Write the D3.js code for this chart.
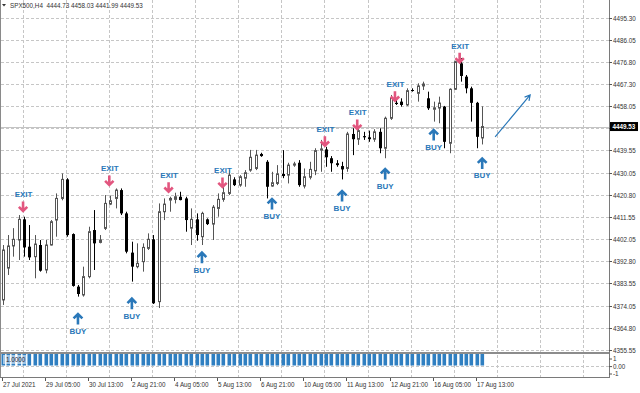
<!DOCTYPE html>
<html><head><meta charset="utf-8">
<script src="https://cdn.jsdelivr.net/npm/d3@7"></script>
<style>body{margin:0;background:#fff}svg{display:block}text{font-family:"Liberation Sans",Arial,sans-serif}</style>
</head><body><svg id="c" width="640" height="393"></svg>
<script>
const symbol = "SPX500", timeframe = "H4";
const openP = [4376.6,4390.0,4399.3,4401.8,4410.5,4399.0,4394.8,4399.7,4389.2,4399.7,
4410.2,4419.3,4427.3,4404.3,4382.2,4378.7,4386.4,4406.0,4400.8,4406.7,
4416.9,4419.3,4422.8,4413.0,4396.5,4390.6,4392.7,4398.3,4402.1,4375.9,
4413.7,4418.6,4418.9,4420.0,4419.3,4406.8,4410.5,4403.2,4410.5,4408.5,
4415.1,4418.9,4421.4,4427.3,4424.9,4427.8,4431.2,4431.9,4438.0,4434.7,
4424.5,4425.6,4429.6,4429.1,4433.3,4434.3,4424.5,4428.2,4430.9,4439.6,
4439.9,4436.2,4434.1,4432.9,4431.9,4446.4,4444.2,4445.5,4445.0,4444.2,
4447.3,4440.4,4453.0,4459.5,4460.0,4458.6,4464.9,4463.5,4466.6,4461.4,
4456.8,4457.3,4457.9,4442.5,4465.2,4476.1,4470.5,4465.6,4459.5,4444.73];
const highP = [4399.7,4403.9,4406.8,4412.3,4411.6,4408.1,4403.9,4401.8,4401.8,4410.2,
4421.4,4429.8,4427.8,4404.6,4382.9,4390.6,4407.4,4414.4,4403.9,4420.7,
4420.5,4423.5,4423.5,4413.7,4401.1,4400.4,4400.4,4404.6,4403.9,4417.2,
4419.3,4420.0,4421.7,4422.1,4420.0,4415.1,4413.0,4413.7,4410.9,4416.5,
4421.4,4424.2,4431.2,4428.2,4429.1,4431.2,4439.7,4439.7,4438.5,4435.4,
4430.5,4433.3,4439.6,4434.3,4434.7,4435.4,4431.9,4434.7,4440.4,4443.9,
4441.0,4437.1,4435.4,4434.7,4447.3,4448.8,4449.4,4447.3,4447.8,4448.4,
4448.8,4453.7,4462.8,4460.7,4461.4,4465.6,4465.6,4467.7,4468.4,4464.2,
4460.0,4462.1,4458.2,4465.6,4477.2,4478.3,4471.2,4466.3,4459.9,4458.03];
const lowP = [4374.5,4387.1,4394.8,4393.4,4394.8,4393.4,4385.7,4388.5,4387.8,4399.5,
4403.2,4418.5,4403.2,4382.2,4378.0,4378.0,4385.7,4389.2,4400.4,4406.0,
4416.5,4415.1,4412.3,4396.2,4384.3,4389.9,4388.5,4397.6,4374.9,4373.2,
4410.2,4413.7,4417.2,4418.5,4405.3,4399.7,4401.5,4399.7,4408.1,4401.8,
4411.6,4417.9,4420.7,4424.5,4424.2,4424.2,4430.5,4431.2,4436.8,4419.3,
4424.2,4424.9,4427.8,4425.6,4432.6,4424.2,4423.5,4427.3,4429.1,4430.5,
4432.6,4430.5,4432.6,4427.3,4430.5,4437.5,4441.8,4443.9,4443.1,4443.1,
4438.3,4436.2,4452.3,4458.6,4457.9,4458.2,4464.2,4460.0,4464.9,4456.5,
4451.6,4450.9,4440.4,4438.3,4464.9,4468.4,4463.5,4451.6,4440.4,4441.99];
const closeP = [4397.6,4399.3,4402.1,4410.5,4398.7,4394.5,4400.1,4388.9,4399.7,4409.5,
4419.3,4427.3,4403.9,4382.5,4379.1,4386.4,4405.3,4400.4,4401.8,4417.2,
4418.3,4422.8,4413.0,4396.9,4390.6,4392.0,4398.7,4402.1,4375.2,4413.7,
4416.9,4419.3,4420.0,4418.6,4410.2,4410.5,4403.9,4413.0,4408.5,4415.6,
4418.9,4421.7,4429.1,4424.9,4428.4,4430.1,4436.6,4437.5,4437.1,4424.2,
4425.9,4429.6,4428.7,4433.3,4433.8,4424.9,4428.4,4431.5,4439.4,4440.1,
4436.6,4434.1,4433.3,4431.5,4446.4,4444.2,4447.8,4445.0,4444.2,4447.3,
4440.4,4453.0,4461.4,4459.0,4458.6,4464.6,4464.5,4466.6,4467.4,4457.2,
4457.4,4459.4,4443.1,4465.2,4476.8,4470.8,4465.6,4459.5,4445.2,4449.53];
const indicatorValues = [1,1,1,1,1,1,1,1,1,1, 1,1,1,1,1,1,1,1,1,1, 1,1,1,1,1,1,1,1,1,1,
1,1,1,1,1,1,1,1,1,1, 1,1,1,1,1,1,1,1,1,1, 1,1,1,1,1,1,1,1,1,1,
1,1,1,1,1,1,1,1,1,1, 1,1,1,1,1,1,1,1,1,1, 1,1,1,1,1,1,1,1,1,1];
const priceTicks = [4355.55,4364.80,4374.05,4383.55,4392.80,4402.05,4411.55,4420.80,4430.05,4439.55,4448.80,4458.05,4467.30,4476.80,4486.05,4495.30];
const timeTickBars = [0,8,16,24,32,40,48,56,64,72,80,88];
const timeLabels = ["27 Jul 2021","29 Jul 05:00","30 Jul 13:00","2 Aug 21:00","4 Aug 05:00","5 Aug 13:00","6 Aug 21:00","10 Aug 05:00","11 Aug 13:00","12 Aug 21:00","16 Aug 05:00","17 Aug 13:00"];
const exitIdx = [4,20,31,41,60,66,73,85];
const exitPrice = [4413.58,4424.51,4421.70,4423.67,4441.04,4448.06,4459.96,4476.11];
const buyIdx = [14,24,37,50,63,71,80,89];
const buyPrice = [4371.11,4377.54,4396.89,4419.47,4422.83,4432.08,4448.48,4436.5];
const trendFromBar = 91.4, trendFromPrice = 4445.2;
const trendToBar = 97.9, trendToPrice = 4462.8;
const indTicks = ["1","0.00","-1"];
const indLabel = "1.0000";

const svg = d3.select("#c");
const plotR = 609;
const x = d3.scaleLinear().domain([0, 89]).range([2.5, 482.2]);
const y = d3.scaleLinear().domain([4355.55, 4495.30]).range([350, 17.7]);
const y2 = d3.scaleLinear().domain([-1, 1]).range([377, 354]);
const n = closeP.length;
const last = n - 1;
const gridC = "#c6c6c6";

svg.append("rect").attr("width",640).attr("height",393).attr("fill","#fff");

// horizontal grid
svg.append("g").selectAll("line").data(priceTicks).join("line")
  .attr("x1",1).attr("x2",plotR).attr("y1",d=>Math.round(y(d))+0.5).attr("y2",d=>Math.round(y(d))+0.5)
  .attr("stroke",gridC).attr("stroke-dasharray","3,2");
// vertical grid
const vg = d3.range(0, 14).map(k => 8*k + 4);
svg.append("g").selectAll("line").data(vg).join("line")
  .attr("x1",d=>Math.round(x(d)-0.5)-0.5).attr("x2",d=>Math.round(x(d)-0.5)-0.5)
  .attr("y1",0).attr("y2",377)
  .attr("stroke",gridC).attr("stroke-dasharray","3,2");
// indicator zero grid
svg.append("line").attr("x1",1).attr("x2",plotR).attr("y1",366.5).attr("y2",366.5)
  .attr("stroke",gridC).attr("stroke-dasharray","3,2");

// current price line
svg.append("line").attr("x1",1).attr("x2",plotR)
  .attr("y1",Math.round(y(closeP[last]))+0.5).attr("y2",Math.round(y(closeP[last]))+0.5)
  .attr("stroke","#c4c4c4");

// candles
const cg = svg.append("g");
d3.range(n).forEach(i => {
  const cx = Math.round(x(i)) + 0.5;
  const bull = closeP[i] >= openP[i];
  const col = bull ? "#555" : "#000";
  cg.append("line").attr("x1",cx).attr("x2",cx).attr("y1",y(highP[i])).attr("y2",y(lowP[i]))
    .attr("stroke",col).attr("stroke-width",1);
  const top = y(Math.max(openP[i],closeP[i])), bot = y(Math.min(openP[i],closeP[i]));
  const h = Math.max(1, bot - top);
  if (bull) {
    cg.append("rect").attr("x",cx-1).attr("width",2).attr("y",top).attr("height",h)
      .attr("fill","#fff").attr("stroke","#555").attr("stroke-width",1);
  } else {
    cg.append("rect").attr("x",cx-1.5).attr("width",3).attr("y",top).attr("height",h)
      .attr("fill","#000");
  }
});

// signals
const pink = "#e2567f", blue = "#2a78b9";
exitIdx.forEach((b, k) => {
  const ax = x(b) - 1, ay = y(exitPrice[k]);
  const g = svg.append("g").attr("transform",`translate(${ax},${ay})`);
  g.append("path").attr("d","M0,-10.5L0,-1.2M-4.2,-5.2L0,-1L4.2,-5.2").attr("fill","none")
    .attr("stroke",pink).attr("stroke-width",2.6).attr("stroke-linejoin","miter");
  svg.append("text").attr("x",ax+0.5).attr("y",ay-14.7).attr("text-anchor","middle")
    .attr("font-size",8).attr("font-weight","bold").attr("fill",blue).text("EXIT");
});
buyIdx.forEach((b, k) => {
  const ax = x(b), ay = y(buyPrice[k]);
  const g = svg.append("g").attr("transform",`translate(${ax},${ay})`);
  g.append("path").attr("d","M0,11.5L0,1.2M-4.4,5.4L0,1L4.4,5.4").attr("fill","none")
    .attr("stroke",blue).attr("stroke-width",2.6).attr("stroke-linejoin","miter");
  svg.append("text").attr("x",ax).attr("y",ay+20.8).attr("text-anchor","middle")
    .attr("font-size",8).attr("font-weight","bold").attr("fill",blue).text("BUY");
});

// trend arrow
{
  const x1 = x(trendFromBar), y1 = y(trendFromPrice), x2 = x(trendToBar), y2p = y(trendToPrice);
  const ang = Math.atan2(y2p - y1, x2 - x1);
  const L = 6, a = 0.5;
  const p1 = [x2 - L*Math.cos(ang - a), y2p - L*Math.sin(ang - a)];
  const p2 = [x2 - L*Math.cos(ang + a), y2p - L*Math.sin(ang + a)];
  svg.append("path").attr("d",`M${x1},${y1}L${x2},${y2p}M${p1}L${x2},${y2p}L${p2}`)
    .attr("fill","none").attr("stroke",blue).attr("stroke-width",1.2);
}

// indicator bars
svg.append("g").selectAll("rect").data(indicatorValues).join("rect")
  .attr("x",(d,i)=>Math.round(x(i))-1.5).attr("width",3.6)
  .attr("y",d=>y2(d)).attr("height",d=>y2(0)-y2(d))
  .attr("fill","#2f7fc1");
svg.append("rect").attr("x",3).attr("y",355).attr("width",24).attr("height",9)
  .attr("fill","#fff").attr("opacity",0.55);
svg.append("text").attr("x",6).attr("y",362).attr("font-size",6.3).attr("fill","#223")
  .text(indLabel);

// frame lines
svg.append("line").attr("x1",0.5).attr("x2",0.5).attr("y1",0).attr("y2",378).attr("stroke","#8a8a8a");
svg.append("line").attr("x1",plotR+0.5).attr("x2",plotR+0.5).attr("y1",0).attr("y2",378).attr("stroke","#7a7a7a");
svg.append("line").attr("x1",0).attr("x2",plotR).attr("y1",353).attr("y2",353).attr("stroke","#8c8c8c").attr("stroke-width",2);
svg.append("line").attr("x1",0).attr("x2",plotR+1).attr("y1",377.5).attr("y2",377.5).attr("stroke","#7a7a7a");

// price axis (label hidden behind the current-price box is skipped)
const cur = closeP[last];
const pa = svg.append("g");
priceTicks.forEach(p => {
  const yy = Math.round(y(p)) + 0.5;
  pa.append("line").attr("x1",plotR).attr("x2",plotR+3).attr("y1",yy).attr("y2",yy).attr("stroke","#555");
  if (Math.abs(y(p) - y(cur)) > 8) {
    pa.append("text").attr("x",613).attr("y",yy+2.2).attr("font-size",6.3).attr("fill","#333")
      .text(p.toFixed(2));
  }
});
// current price box
{
  const yy = y(cur);
  svg.append("rect").attr("x",610).attr("y",yy-4.5).attr("width",28).attr("height",9).attr("fill","#000");
  svg.append("text").attr("x",612.5).attr("y",yy+2.3).attr("font-size",6.3).attr("fill","#fff")
    .attr("font-weight","bold").text(cur.toFixed(2));
}
// indicator axis
const indPos = [359, 366.6, 374];
indTicks.forEach((t, k) => {
  svg.append("line").attr("x1",plotR).attr("x2",plotR+3).attr("y1",indPos[k]).attr("y2",indPos[k]).attr("stroke","#555");
  svg.append("text").attr("x",613).attr("y",indPos[k]+2.2).attr("font-size",6.3).attr("fill","#333").text(t);
});

// time axis
timeTickBars.forEach((b, k) => {
  const xx = Math.round(x(b)) - 0.5;
  svg.append("line").attr("x1",xx).attr("x2",xx).attr("y1",378).attr("y2",381).attr("stroke","#555");
  svg.append("text").attr("x",xx+0.5).attr("y",387).attr("font-size",6.3).attr("fill","#333").text(timeLabels[k]);
});

// header
svg.append("path").attr("d","M2,4L6,4L4,6.5Z").attr("fill","#333");
svg.append("text").attr("x",10).attr("y",7.5).attr("font-size",6.3).attr("fill","#333")
  .attr("xml:space","preserve")
  .text(`${symbol},${timeframe}  ${openP[last].toFixed(2)} ${highP[last].toFixed(2)} ${lowP[last].toFixed(2)} ${cur.toFixed(2)}`);
</script></body></html>
